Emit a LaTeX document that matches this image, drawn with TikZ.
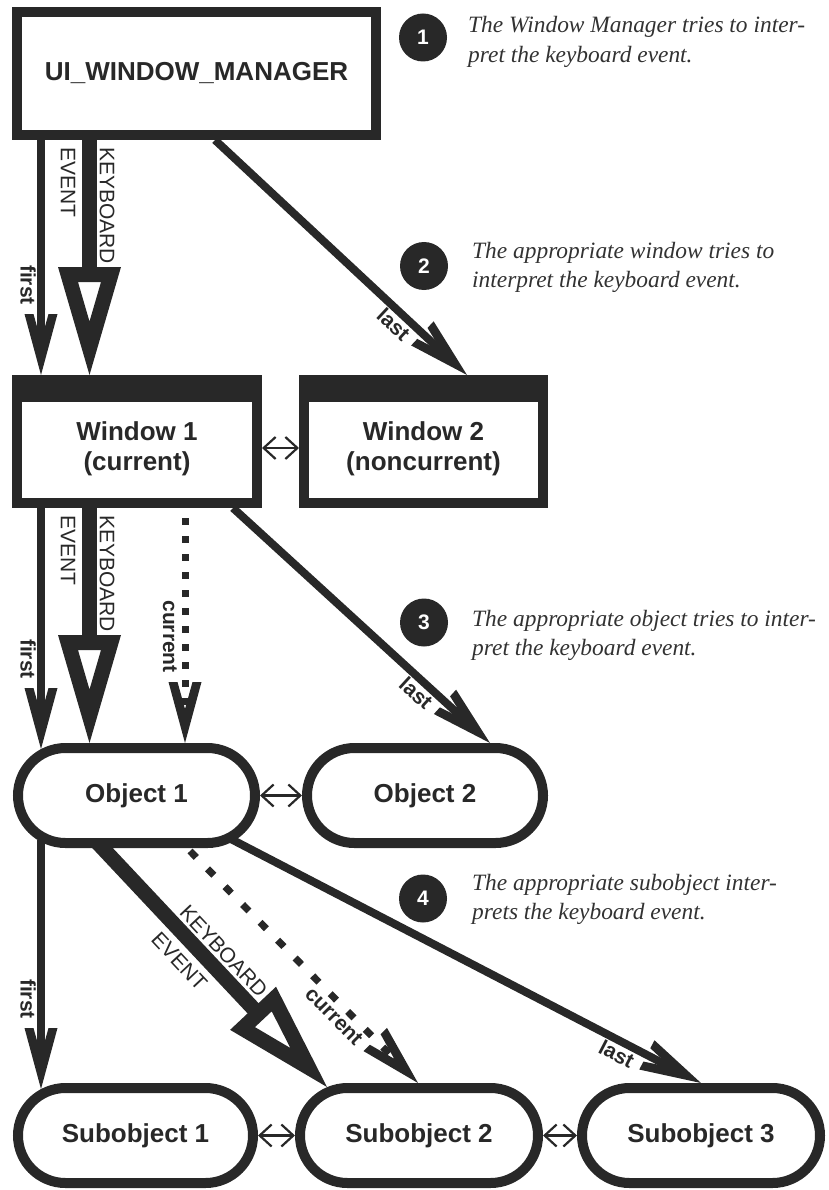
\documentclass[tikz,border=0pt]{standalone}
\usepackage{fontspec}
\setmainfont{Liberation Serif}
\setsansfont{Liberation Sans}
\usetikzlibrary{calc,arrows.meta}
\definecolor{ink}{RGB}{40,40,40}
\definecolor{prose}{RGB}{50,50,50}
\pgfdeclarelayer{bg}
\pgfsetlayers{bg,main}

% open V arrow: [shaft options]{start}{tip}{label}{label gap}
\newcommand{\vtip}[5][]{%
  \coordinate (aS) at (#2);
  \coordinate (aT) at (#3);
  \coordinate (aP) at ($(aT)!61pt!(aS)$);
  \draw[shaftline,#1] (aS) -- ($(aT)!25pt!(aS)$);
  \fill[ink] (aT) -- ($(aP)!16.5pt!90:(aT)$) -- ($(aP)!7.5pt!90:(aT)$)
    -- ($(aT)!34pt!(aS)$) -- ($(aP)!7.5pt!-90:(aT)$) -- ($(aP)!16.5pt!-90:(aT)$) -- cycle;
  \path ($(aT)!70pt!(aS)$) -- (aT)
    node[pos=0, sloped, allow upside down, anchor=north east, tag, inner ysep=#5] {#4};
}
% thick KEYBOARD EVENT arrow with hollow triangle head
\newcommand{\kbtip}[2]{%
  \coordinate (bS) at (#1);
  \coordinate (bT) at (#2);
  \coordinate (bB) at ($(bT)!108pt!(bS)$);
  \coordinate (bI) at ($(bT)!93pt!(bS)$);
  \draw[ink, line width=15pt] (bS) -- ($(bT)!100pt!(bS)$);
  \fill[ink, even odd rule] (bT) -- ($(bB)!31.5pt!90:(bT)$) -- ($(bB)!31.5pt!-90:(bT)$) -- cycle
    ($(bT)!53.5pt!(bS)$) -- ($(bI)!11.5pt!90:(bT)$) -- ($(bI)!11.5pt!-90:(bT)$) -- cycle;
  \path ($(bT)!228pt!(bS)$) -- (bT)
    node[pos=0, sloped, allow upside down, anchor=south west, caps, inner ysep=10pt] {KEYBOARD}
    node[pos=0, sloped, allow upside down, anchor=north west, caps, inner ysep=14pt] {EVENT};
}

\begin{document}
\begin{tikzpicture}[x=1pt, y=-1pt,
  box/.style={draw=ink, line width=10pt, fill=white, outer sep=5pt, inner sep=0pt,
    minimum height=123pt, text=ink, font=\sffamily\bfseries\fontsize{26}{30}\selectfont},
  wtext/.style={align=center, inner sep=0pt, text=ink, font=\sffamily\bfseries\fontsize{26}{30}\selectfont},
  pill/.style={draw=ink, line width=10pt, fill=white, outer sep=5pt, inner sep=0pt,
    rounded corners=47.5pt, minimum height=95pt, text=ink,
    font=\sffamily\bfseries\fontsize{26}{30}\selectfont},
  num/.style={circle, fill=ink, minimum size=48pt, inner sep=0pt, text=white,
    font=\sffamily\bfseries\fontsize{21}{25}\selectfont},
  desc/.style={align=left, inner sep=0pt, text=prose,
    font=\rmfamily\itshape\fontsize{23.4}{29.5}\selectfont},
  tag/.style={inner xsep=0pt, text=ink, font=\sffamily\bfseries\fontsize{21}{25}\selectfont},
  caps/.style={inner xsep=0pt, text=ink, font=\sffamily\fontsize{21}{25}\selectfont},
  shaftline/.style={draw=ink, line width=8pt},
  dots/.style={line width=7pt, dash pattern=on 7pt off 11pt},
  ddots/.style={line width=7pt, dash pattern=on 9pt off 16pt},
  dbl/.style={draw=ink, line width=2.2pt,
    {Straight Barb[length=12pt,width=22pt]}-{Straight Barb[length=12pt,width=22pt]}}
]
\useasboundingbox (0,0) rectangle (828,1190);

% ---- boxes
\node[box, minimum width=359pt] (ui) at (196.5,73.5) {UI\_WINDOW\_MANAGER};
\node[box, minimum width=240pt] (w1) at (137,441.5) {};
\node[box, minimum width=239pt] (w2) at (423.5,441.5) {};
\fill[ink] (w1.north west) rectangle ([yshift=-27pt]w1.north east);
\fill[ink] (w2.north west) rectangle ([yshift=-27pt]w2.north east);
\node[wtext] (w1t) at ([yshift=-7pt]w1.center) {Window 1\\(current)};
\node[wtext] (w2t) at ([yshift=-7pt]w2.center) {Window 2\\(noncurrent)};

\node[pill, minimum width=237pt] (o1) at (136.5,795.5) {Object 1};
\node[pill, minimum width=236pt] (o2) at (425,795.5) {Object 2};
\node[pill, minimum width=235pt] (s1) at (135.5,1135.5) {Subobject 1};
\node[pill, minimum width=238pt] (s2) at (419,1135.5) {Subobject 2};
\node[pill, minimum width=238pt] (s3) at (701,1135.5) {Subobject 3};

% ---- numbered notes
\node[num] (n1) at (423,37.5) {1};
\node[num] (n2) at (424,266) {2};
\node[num] (n3) at (424,622.5) {3};
\node[num] (n4) at (423,898.5) {4};
% anchor = baseline of the second line
\node[desc, anchor=base west] (d1) at (468,62.5) {The Window Manager tries to inter-\\pret the keyboard event.};
\node[desc, anchor=base west] (d2) at (472,287.5) {The appropriate window tries to\\interpret the keyboard event.};
\node[desc, anchor=base west] (d3) at (472,655.5) {The appropriate object tries to inter-\\pret the keyboard event.};
\node[desc, anchor=base west] (d4) at (472,919.5) {The appropriate subobject inter-\\prets the keyboard event.};

% ---- connectors
\begin{pgfonlayer}{bg}
% level 1
\vtip{[xshift=29pt]ui.south west}{[xshift=29pt]w1.north west}{first}{5pt}
\kbtip{[xshift=77.5pt]ui.south west}{[xshift=77.5pt]w1.north west}
\vtip{[xshift=203pt]ui.south west}{[xshift=168pt]w2.north west}{last}{5pt}
\draw[dbl] ([yshift=-6.5pt]w1.east) -- ([yshift=-6.5pt]w2.west);
% level 2
\vtip{[xshift=29pt]w1.south west}{[xshift=28pt,yshift=-6pt]o1.north west}{first}{5pt}
\kbtip{[xshift=77.5pt]w1.south west}{[xshift=76.5pt]o1.north west}
\vtip[dots]{[xshift=173pt,yshift=-10pt]w1.south west}{[xshift=172pt]o1.north west}{current}{8pt}
\vtip{[xshift=221pt]w1.south west}{[xshift=188pt]o2.north west}{last}{5pt}
\draw[dbl] (o1.east) -- (o2.west);
% level 3
\vtip{[xshift=28pt,yshift=8pt]o1.south west}{[xshift=28pt,yshift=-6pt]s1.north west}{first}{5pt}
\kbtip{[xshift=82pt,yshift=8pt]o1.south west}{[xshift=32pt,yshift=-4pt]s2.north west}
\vtip[ddots]{[xshift=177pt,yshift=-3pt]o1.south west}{[xshift=123pt]s2.north west}{current}{6pt}
\vtip{[xshift=216pt,yshift=10pt]o1.south west}{s3.north}{last}{5pt}
\draw[dbl] (s1.east) -- (s2.west);
\draw[dbl] (s2.east) -- (s3.west);
\end{pgfonlayer}
\end{tikzpicture}
\end{document}
